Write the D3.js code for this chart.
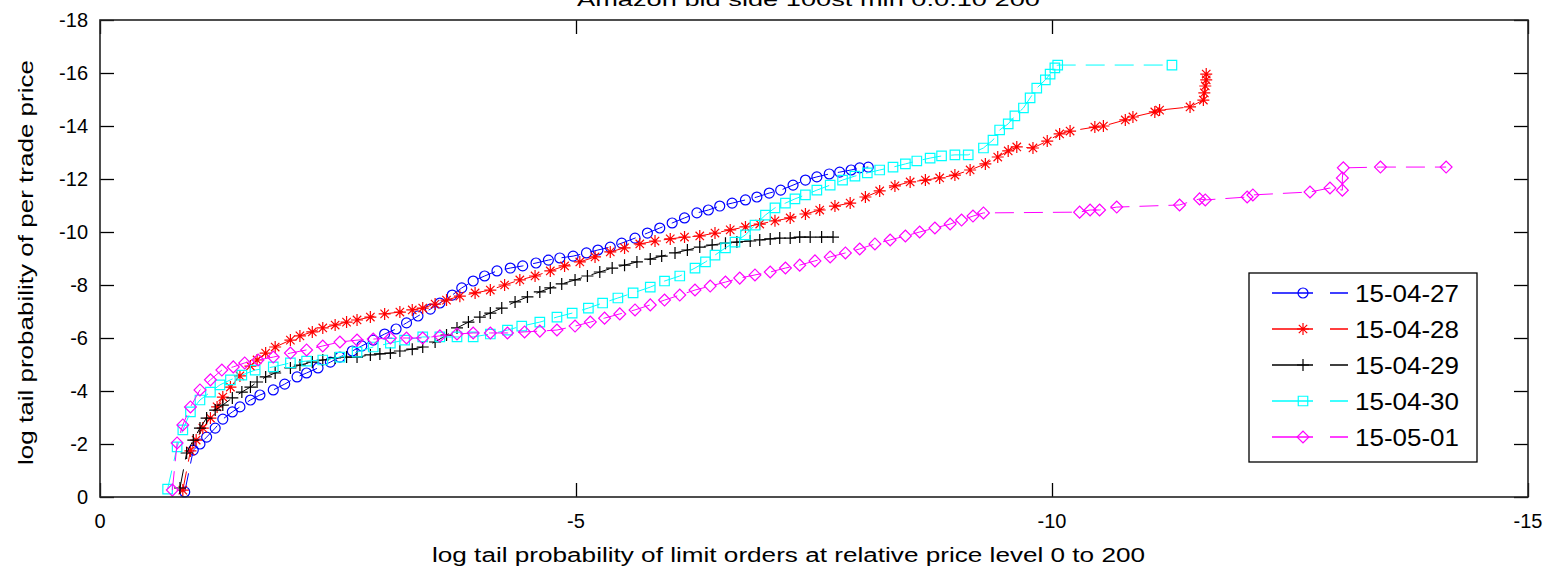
<!DOCTYPE html>
<html lang="en">
<head>
    <meta charset="UTF-8">
    <title>Amazon bid side log tail probability</title>
    <script src="https://d3js.org/d3.v7.min.js"></script>
    <style>
        body { margin: 0; background: #fff; }
        text { font-family: "Liberation Sans", Arial, sans-serif; fill: #000; }
    </style>
</head>
<body>
    <svg id="chart"></svg>
    <script>
        // tick labels
        const xTicks = [0, -5, -10, -15];
        const yTicks = [0, -2, -4, -6, -8, -10, -12, -14, -16, -18];

        // series names, in legend order
        const dates = ["15-04-27", "15-04-28", "15-04-29", "15-04-30", "15-05-01"];

        // [log tail prob of limit orders, log tail prob of trade price]
        const d0427 = [[-0.89,-0.19],[-0.98,-1.77],[-1.05,-2.0],[-1.12,-2.26],[-1.21,-2.6],[-1.29,-2.94],[-1.39,-3.21],[-1.47,-3.4],[-1.58,-3.66],[-1.68,-3.85],[-1.82,-4.04],[-1.94,-4.26],[-2.07,-4.53],[-2.17,-4.68],[-2.29,-4.87],[-2.42,-5.09],[-2.52,-5.28],[-2.65,-5.51],[-2.75,-5.7],[-2.87,-5.92],[-2.99,-6.15],[-3.11,-6.34],[-3.22,-6.57],[-3.34,-6.83],[-3.47,-7.09],[-3.57,-7.32],[-3.70,-7.62],[-3.80,-7.89],[-3.92,-8.15],[-4.04,-8.34],[-4.17,-8.53],[-4.31,-8.64],[-4.44,-8.72],[-4.58,-8.83],[-4.71,-8.94],[-4.83,-9.02],[-4.97,-9.09],[-5.11,-9.21],[-5.23,-9.32],[-5.36,-9.43],[-5.48,-9.58],[-5.62,-9.77],[-5.75,-9.96],[-5.88,-10.15],[-6.01,-10.34],[-6.14,-10.53],[-6.27,-10.72],[-6.39,-10.83],[-6.51,-10.98],[-6.64,-11.09],[-6.78,-11.21],[-6.90,-11.32],[-7.03,-11.47],[-7.15,-11.58],[-7.28,-11.77],[-7.41,-11.96],[-7.53,-12.08],[-7.66,-12.19],[-7.77,-12.26],[-7.89,-12.34],[-7.98,-12.42],[-8.07,-12.45]];

        const d0428 = [[-0.87,-0.26],[-0.95,-1.74],[-1.01,-2.15],[-1.08,-2.6],[-1.16,-2.98],[-1.23,-3.4],[-1.29,-3.77],[-1.37,-4.15],[-1.47,-4.57],[-1.58,-4.94],[-1.65,-5.17],[-1.74,-5.43],[-1.84,-5.66],[-2.00,-5.92],[-2.10,-6.08],[-2.23,-6.23],[-2.34,-6.38],[-2.47,-6.49],[-2.59,-6.6],[-2.70,-6.68],[-2.84,-6.79],[-2.99,-6.91],[-3.15,-6.98],[-3.28,-7.06],[-3.39,-7.13],[-3.52,-7.28],[-3.64,-7.43],[-3.78,-7.58],[-3.94,-7.7],[-4.10,-7.81],[-4.25,-8.0],[-4.41,-8.19],[-4.57,-8.34],[-4.73,-8.53],[-4.88,-8.72],[-5.04,-8.87],[-5.20,-9.06],[-5.36,-9.25],[-5.51,-9.4],[-5.67,-9.55],[-5.83,-9.66],[-5.99,-9.74],[-6.14,-9.81],[-6.30,-9.85],[-6.46,-9.96],[-6.62,-10.08],[-6.78,-10.19],[-6.93,-10.3],[-7.09,-10.42],[-7.25,-10.53],[-7.41,-10.68],[-7.56,-10.83],[-7.72,-10.98],[-7.88,-11.09],[-8.04,-11.32],[-8.19,-11.55],[-8.35,-11.74],[-8.51,-11.89],[-8.67,-11.96],[-8.82,-12.04],[-8.98,-12.15],[-9.14,-12.34],[-9.30,-12.57],[-9.43,-12.83],[-9.54,-13.06],[-9.63,-13.21],[-9.80,-13.17],[-9.95,-13.43],[-10.08,-13.7],[-10.19,-13.81],[-10.45,-13.96],[-10.54,-14.0],[-10.77,-14.23],[-10.85,-14.34],[-11.08,-14.53],[-11.13,-14.6],[-11.45,-14.72],[-11.59,-14.98],[-11.60,-15.25],[-11.61,-15.51],[-11.62,-15.74],[-11.62,-15.96]];

        const d0429 = [[-0.84,-0.34],[-0.91,-1.66],[-0.98,-2.15],[-1.05,-2.6],[-1.12,-2.98],[-1.21,-3.28],[-1.29,-3.47],[-1.39,-3.74],[-1.49,-3.96],[-1.58,-4.15],[-1.65,-4.34],[-1.74,-4.53],[-1.84,-4.68],[-2.00,-4.87],[-2.10,-4.98],[-2.23,-5.09],[-2.34,-5.17],[-2.47,-5.25],[-2.59,-5.28],[-2.70,-5.28],[-2.84,-5.36],[-2.94,-5.4],[-3.05,-5.43],[-3.15,-5.51],[-3.28,-5.58],[-3.39,-5.66],[-3.52,-5.85],[-3.64,-6.11],[-3.75,-6.38],[-3.87,-6.6],[-3.99,-6.79],[-4.10,-6.94],[-4.22,-7.13],[-4.36,-7.36],[-4.49,-7.55],[-4.62,-7.74],[-4.73,-7.89],[-4.85,-8.04],[-4.99,-8.19],[-5.12,-8.34],[-5.25,-8.49],[-5.38,-8.64],[-5.51,-8.75],[-5.64,-8.87],[-5.78,-8.98],[-5.90,-9.09],[-6.04,-9.21],[-6.17,-9.32],[-6.30,-9.43],[-6.43,-9.51],[-6.57,-9.58],[-6.69,-9.62],[-6.83,-9.66],[-6.93,-9.7],[-7.04,-9.74],[-7.14,-9.77],[-7.25,-9.77],[-7.35,-9.81],[-7.46,-9.81],[-7.58,-9.81],[-7.70,-9.81]];

        const d0430 = [[-0.71,-0.3],[-0.81,-1.89],[-0.87,-2.53],[-0.95,-3.21],[-1.05,-3.66],[-1.16,-3.96],[-1.26,-4.23],[-1.37,-4.42],[-1.49,-4.6],[-1.63,-4.79],[-1.82,-4.91],[-2.00,-5.06],[-2.17,-5.13],[-2.34,-5.17],[-2.52,-5.28],[-2.70,-5.47],[-2.87,-5.66],[-3.05,-5.81],[-3.20,-5.92],[-3.39,-6.04],[-3.57,-6.04],[-3.75,-6.04],[-3.92,-6.04],[-4.10,-6.15],[-4.28,-6.3],[-4.43,-6.45],[-4.62,-6.6],[-4.80,-6.79],[-4.96,-6.94],[-5.13,-7.13],[-5.28,-7.32],[-5.44,-7.51],[-5.60,-7.7],[-5.78,-7.92],[-5.93,-8.15],[-6.09,-8.34],[-6.25,-8.64],[-6.36,-8.87],[-6.46,-9.13],[-6.57,-9.4],[-6.67,-9.62],[-6.78,-9.89],[-6.88,-10.26],[-6.99,-10.64],[-7.09,-10.91],[-7.20,-11.09],[-7.30,-11.25],[-7.41,-11.4],[-7.53,-11.58],[-7.67,-11.77],[-7.80,-11.96],[-7.93,-12.11],[-8.06,-12.23],[-8.19,-12.34],[-8.33,-12.45],[-8.46,-12.57],[-8.58,-12.68],[-8.72,-12.79],[-8.84,-12.87],[-8.98,-12.91],[-9.12,-12.91],[-9.28,-13.17],[-9.38,-13.47],[-9.45,-13.85],[-9.54,-14.08],[-9.61,-14.38],[-9.70,-14.68],[-9.77,-15.06],[-9.84,-15.43],[-9.93,-15.74],[-9.98,-15.96],[-10.03,-16.19],[-10.06,-16.3],[-11.26,-16.3]];

        const d0501 = [[-0.76,-0.26],[-0.81,-2.04],[-0.87,-2.72],[-0.95,-3.4],[-1.05,-4.04],[-1.16,-4.42],[-1.28,-4.79],[-1.40,-4.91],[-1.52,-5.06],[-1.66,-5.17],[-1.82,-5.28],[-2.00,-5.43],[-2.17,-5.55],[-2.34,-5.7],[-2.52,-5.85],[-2.70,-5.92],[-2.87,-5.96],[-3.05,-6.0],[-3.22,-6.0],[-3.39,-6.0],[-3.57,-6.08],[-3.75,-6.15],[-3.92,-6.19],[-4.10,-6.19],[-4.28,-6.19],[-4.46,-6.23],[-4.62,-6.26],[-4.80,-6.3],[-4.99,-6.45],[-5.15,-6.6],[-5.30,-6.75],[-5.46,-6.91],[-5.62,-7.06],[-5.78,-7.25],[-5.93,-7.43],[-6.09,-7.62],[-6.25,-7.81],[-6.41,-7.96],[-6.57,-8.11],[-6.72,-8.26],[-6.88,-8.38],[-7.04,-8.49],[-7.20,-8.64],[-7.35,-8.75],[-7.51,-8.91],[-7.67,-9.06],[-7.83,-9.21],[-7.98,-9.36],[-8.14,-9.55],[-8.30,-9.7],[-8.46,-9.85],[-8.61,-10.0],[-8.77,-10.15],[-8.93,-10.3],[-9.05,-10.45],[-9.17,-10.6],[-9.28,-10.72],[-10.29,-10.75],[-10.40,-10.83],[-10.50,-10.83],[-10.68,-10.94],[-11.34,-11.02],[-11.55,-11.25],[-11.61,-11.21],[-12.05,-11.32],[-12.11,-11.4],[-12.71,-11.51],[-12.92,-11.66],[-13.05,-11.58],[-13.05,-12.04],[-13.06,-12.42],[-13.45,-12.45],[-14.14,-12.45]];

        const seriesData = [d0427, d0428, d0429, d0430, d0501];
        const colors = ["#0000ff", "#ff0000", "#000000", "#00ffff", "#ff00ff"];

        // marker shapes
        const circle = d3.symbol(d3.symbolCircle, 78)();
        const square = d3.symbol(d3.symbolSquare, 90)();
        const diamond = d3.symbol(d3.symbolSquare, 70)();
        const plus = "M-6,0H6M0,-6V6";
        const star = "M-6,0H6M0,-6V6M-4.2,-4.2L4.2,4.2M-4.2,4.2L4.2,-4.2";
        const markers = [
            { d: circle, rot: 0 },
            { d: star, rot: 0 },
            { d: plus, rot: 0 },
            { d: square, rot: 0 },
            { d: diamond, rot: 45 }
        ];

        const width = 1561, height = 576;
        const pLeft = 100, pRight = 1528, pTop = 20, pBottom = 497;
        const tickLen = 14;

        const svg = d3.select("#chart").attr("width", width).attr("height", height);

        const x = d3.scaleLinear().domain([0, -15]).range([pLeft, pRight]);
        const y = d3.scaleLinear().domain([0, -18]).range([pBottom, pTop]);

        // title, only its lower part shows at the top of the picture
        svg.append("text").attr("x", 577).attr("y", 6)
            .attr("textLength", 463).attr("lengthAdjust", "spacingAndGlyphs")
            .style("font-size", "19px")
            .text("Amazon bid side 100st min 0.0.10 200");

        // series
        const line = d3.line().x(d => x(d[0])).y(d => y(d[1]));
        seriesData.forEach((data, i) => {
            const g = svg.append("g");
            g.append("path").datum(data).attr("d", line)
                .attr("fill", "none").attr("stroke", colors[i])
                .attr("stroke-width", 1).attr("stroke-dasharray", "19,10");
            g.selectAll("path.m").data(data).join("path").attr("class", "m")
                .attr("d", markers[i].d)
                .attr("transform", d => `translate(${x(d[0])},${y(d[1])}) rotate(${markers[i].rot})`)
                .attr("fill", "none").attr("stroke", colors[i]).attr("stroke-width", 1.2);
        });

        // axes: ticks inward on all four sides
        svg.append("g").attr("transform", `translate(0,${pBottom})`)
            .call(d3.axisTop(x).tickValues(xTicks).tickSize(tickLen).tickFormat(""));
        svg.append("g").attr("transform", `translate(0,${pTop})`)
            .call(d3.axisBottom(x).tickValues(xTicks).tickSize(tickLen).tickFormat(""));
        svg.append("g").attr("transform", `translate(${pLeft},0)`)
            .call(d3.axisRight(y).tickValues(yTicks).tickSize(tickLen).tickFormat(""));
        svg.append("g").attr("transform", `translate(${pRight},0)`)
            .call(d3.axisLeft(y).tickValues(yTicks).tickSize(tickLen).tickFormat(""));
        svg.selectAll(".domain").remove();
        svg.selectAll(".tick line").attr("stroke", "#000").attr("stroke-width", 1.3);

        svg.append("rect").attr("x", pLeft).attr("y", pTop)
            .attr("width", pRight - pLeft).attr("height", pBottom - pTop)
            .attr("fill", "none").attr("stroke", "#222").attr("stroke-width", 1.6);

        // tick labels
        svg.selectAll("text.xt").data(xTicks).join("text").attr("class", "xt")
            .attr("x", d => x(d)).attr("y", pBottom + 31)
            .attr("text-anchor", "middle").style("font-size", "20px")
            .text(d => d);
        svg.selectAll("text.yt").data(yTicks).join("text").attr("class", "yt")
            .attr("x", pLeft - 12).attr("y", d => y(d) + 7)
            .attr("text-anchor", "end").style("font-size", "20px")
            .text(d => d);

        // axis labels
        svg.append("text").attr("x", 432).attr("y", 562)
            .attr("textLength", 713).attr("lengthAdjust", "spacingAndGlyphs")
            .style("font-size", "20px")
            .text("log tail probability of limit orders at relative price level 0 to 200");
        svg.append("text").attr("transform", "translate(33,465) rotate(-90)")
            .attr("textLength", 405).attr("lengthAdjust", "spacingAndGlyphs")
            .style("font-size", "20px")
            .text("log tail probability of per trade price");

        // legend
        const lg = svg.append("g");
        lg.append("rect").attr("x", 1249).attr("y", 273).attr("width", 228).attr("height", 189)
            .attr("fill", "#fff").attr("stroke", "#000").attr("stroke-width", 1.3);
        dates.forEach((name, i) => {
            const yy = 293 + i * 36;
            lg.append("line").attr("x1", 1272).attr("x2", 1348).attr("y1", yy).attr("y2", yy)
                .attr("stroke", colors[i]).attr("stroke-width", 1.3).attr("stroke-dasharray", "41,17,18");
            lg.append("path").attr("d", markers[i].d)
                .attr("transform", `translate(1303,${yy}) rotate(${markers[i].rot})`)
                .attr("fill", "none").attr("stroke", colors[i]).attr("stroke-width", 1.2);
            lg.append("text").attr("x", 1355).attr("y", yy + 9)
                .attr("textLength", 104).attr("lengthAdjust", "spacingAndGlyphs")
                .style("font-size", "24px").text(name);
        });
    </script>
</body>
</html>
